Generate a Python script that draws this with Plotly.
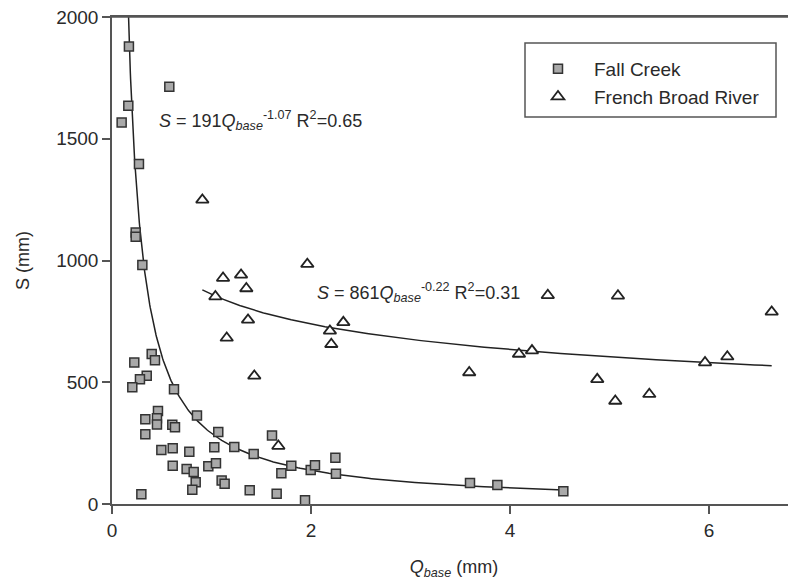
import numpy as np
import plotly.graph_objects as go

# ---- data ----
fc_q = [0.170, 0.576, 0.164, 0.097, 0.271, 0.238, 0.238, 0.305, 0.399, 0.224,
        0.432, 0.349, 0.281, 0.204, 0.623, 0.462, 0.335, 0.452, 0.452, 0.854,
        0.606, 0.633, 0.335, 1.068, 1.608, 0.496, 0.610, 0.777, 1.028, 1.229,
        1.424, 0.610, 0.750, 0.821, 0.968, 1.045, 0.841, 0.807, 1.102, 1.132,
        1.384, 1.655, 1.940, 0.295, 1.702, 1.802, 1.997, 2.040, 2.245, 2.251,
        3.598, 3.873, 4.536]
fc_s = [1879, 1714, 1636, 1567, 1396, 1115, 1098, 982, 616, 581,
        590, 527, 512, 479, 471, 382, 348, 352, 326, 363,
        325, 315, 286, 296, 281, 222, 229, 215, 233, 234,
        205, 157, 144, 131, 155, 167, 89, 59, 96, 83,
        56, 42, 15, 40, 126, 157, 140, 159, 190, 124,
        86, 78, 52]

fb_q = [0.908, 1.116, 1.297, 1.350, 1.039, 1.367, 1.153, 1.430, 1.672, 1.963,
        2.325, 2.190, 2.204, 3.590, 4.090, 4.221, 4.380, 5.085, 4.877, 5.058,
        5.400, 5.960, 6.184, 6.630]
fb_s = [1249, 928, 941, 885, 852, 756, 682, 526, 238, 985,
        746, 711, 656, 540, 616, 630, 857, 855, 512, 423,
        451, 581, 605, 789]

# power-law curves as drawn in the picture: S = a * Q^b
fc_fit = (290, -1.07)
fb_fit = (861, -0.22)

series_names = ["Fall Creek", "French Broad River"]
x_ticks = [0, 2, 4, 6]
y_ticks = [0, 500, 1000, 1500, 2000]

FONT = "Liberation Sans, Arial, sans-serif"
INK = "#2a2a2a"
AX = "#555555"

def curve(qs, fit):
    q = np.geomspace(min(qs), max(qs), 300)
    return q, fit[0] * q ** fit[1]

fig = go.Figure()

cq, cs = curve(fc_q, fc_fit)
fig.add_trace(go.Scatter(x=cq, y=cs, mode="lines", line=dict(color="#222222", width=1.5),
                         showlegend=False, hoverinfo="skip"))
cq2, cs2 = curve(fb_q, fb_fit)
fig.add_trace(go.Scatter(x=cq2, y=cs2, mode="lines", line=dict(color="#222222", width=1.5),
                         showlegend=False, hoverinfo="skip"))

fig.add_trace(go.Scatter(x=fc_q, y=fc_s, mode="markers", name=series_names[0],
                         marker=dict(symbol="square", size=9, color="#a9a9a9",
                                     line=dict(color="#333333", width=1.5))))
fig.add_trace(go.Scatter(x=fb_q, y=fb_s, mode="markers", name=series_names[1],
                         marker=dict(symbol="triangle-up", size=11, color="white",
                                     line=dict(color="#222222", width=1.8))))

# page has an 8px body margin; figure coordinates = page - OFF
OFF = 8
W, H = 796 - OFF, 587 - OFF
L, R, T, B = 104, 0, 9, 83
pw = W - L - R
ph = H - T - B

def px_x(p):
    return (p - OFF - L) / pw

def px_y(p):
    return (H - B - (p - OFF)) / ph

fig.update_layout(
    width=W, height=H,
    margin=dict(l=L, r=R, t=T, b=B),
    paper_bgcolor="white", plot_bgcolor="white",
    font=dict(family=FONT, size=18, color=INK),
    showlegend=True,
    legend=dict(x=px_x(522), y=px_y(50), xanchor="left", yanchor="top",
                bgcolor="rgba(0,0,0,0)", borderwidth=0,
                font=dict(size=19, color=INK), itemwidth=62, tracegroupgap=0),
    xaxis=dict(range=[0, pw / 99.5], tickvals=x_ticks, ticks="outside", ticklen=8,
               tickwidth=1.5, tickcolor=AX, showline=True, linecolor=AX, linewidth=1.5,
               mirror=True, showgrid=False, zeroline=False,
               tickfont=dict(size=19, color=INK), ticklabeloverflow="allow",
               title=dict(text="<i>Q</i><sub><i>base</i></sub> (mm)", standoff=21,
                          font=dict(size=18, color=INK))),
    yaxis=dict(range=[0, 2000], tickvals=y_ticks, ticks="outside", ticklen=8,
               tickwidth=1.5, tickcolor=AX, showline=True, linecolor=AX, linewidth=1.5,
               showgrid=False, zeroline=False,
               tickfont=dict(size=19, color=INK), ticklabeloverflow="allow",
               title=dict(text="S (mm)", standoff=22, font=dict(size=18, color=INK))),
    shapes=[
        dict(type="rect", xref="paper", yref="paper",
             x0=px_x(525), x1=px_x(776), y0=px_y(117), y1=px_y(43),
             line=dict(color=AX, width=1.5), fillcolor="rgba(0,0,0,0)"),
        dict(type="line", xref="paper", yref="paper", x0=0, x1=1, y0=1, y1=1,
             line=dict(color=AX, width=1.5)),
    ],
    annotations=[
        dict(x=0.452, y=1574, xref="x", yref="y", xanchor="left", yanchor="middle",
             showarrow=False, font=dict(size=18, color=INK),
             text="<i>S</i> = 191<i>Q</i><sub><i>base</i></sub><sup>-1.07</sup> R<sup>2</sup>=0.65"),
        dict(x=2.04, y=867, xref="x", yref="y", xanchor="left", yanchor="middle",
             showarrow=False, font=dict(size=18, color=INK),
             text="<i>S</i> = 861<i>Q</i><sub><i>base</i></sub><sup>-0.22</sup> R<sup>2</sup>=0.31"),
    ],
)

fig.write_html("out.html")
